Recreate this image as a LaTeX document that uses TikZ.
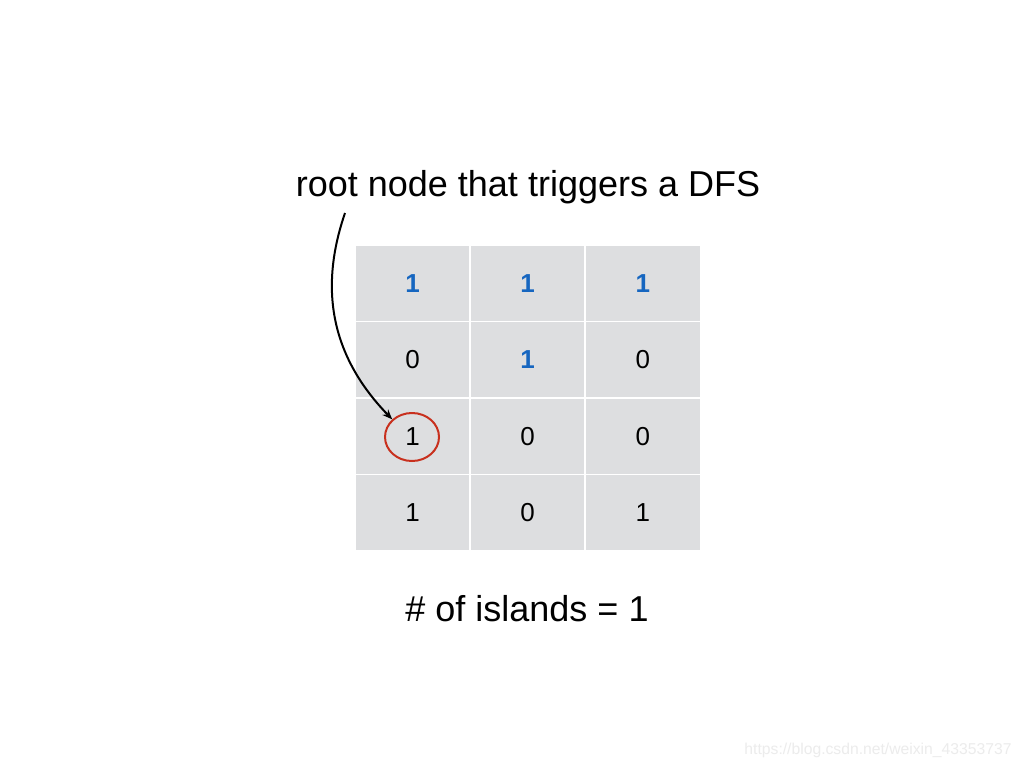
\documentclass[tikz,border=0pt]{standalone}
\usepackage{fontspec}
\setmainfont{Liberation Sans}
\usetikzlibrary{arrows.meta,shapes.geometric}
\definecolor{cellgray}{RGB}{221,222,224}
\definecolor{oneblue}{RGB}{22,102,192}
\definecolor{ringred}{RGB}{200,48,30}
\definecolor{wmgray}{RGB}{236,236,236}
\begin{document}
\begin{tikzpicture}[x=1pt,y=-1pt,
  cell/.style={fill=cellgray,draw=white,line width=1.6pt,minimum width=115.3pt,minimum height=76.5pt,inner sep=0pt,font=\fontsize{26}{26}\selectfont},
  bone/.style={cell,text=oneblue,font=\fontsize{26}{26}\selectfont\bfseries},
  bigtext/.style={font=\fontsize{36}{36}\selectfont,inner sep=0pt}]
\useasboundingbox (0,0) rectangle (1024,768);
\fill[white] (0,0) rectangle (1024,768);
% grid
\node[bone] (c11) at (412.5,283.25) {1};
\node[bone] (c12) at (527.5,283.25) {1};
\node[bone] (c13) at (642.8,283.25) {1};
\node[cell] (c21) at (412.5,359.75) {0};
\node[bone] (c22) at (527.5,359.75) {1};
\node[cell] (c23) at (642.8,359.75) {0};
\node[cell] (c31) at (412.5,436.25) {1};
\node[cell] (c32) at (527.5,436.25) {0};
\node[cell] (c33) at (642.8,436.25) {0};
\node[cell] (c41) at (412.5,512.75) {1};
\node[cell] (c42) at (527.5,512.75) {0};
\node[cell] (c43) at (642.8,512.75) {1};
% ring
\node[ellipse,draw=ringred,line width=2pt,minimum width=54pt,minimum height=48pt] (ring) at (412,437) {};
% title
\node[bigtext] (title) at (528,187) {root node that triggers a DFS};
\coordinate (start) at (345,213);
\draw[line width=2pt,-{Stealth[length=10pt,width=8pt]}] (start) .. controls (322,280) and (325,350) .. (ring.north west);
% count
\node[bigtext] (count) at (527,609) {\# of islands = 1};
% watermark
\node[font=\fontsize{15.7}{15.7}\selectfont,text=wmgray,inner sep=0pt] (wm) at (878,750) {https://blog.csdn.net/weixin\_43353737};
\end{tikzpicture}
\end{document}
